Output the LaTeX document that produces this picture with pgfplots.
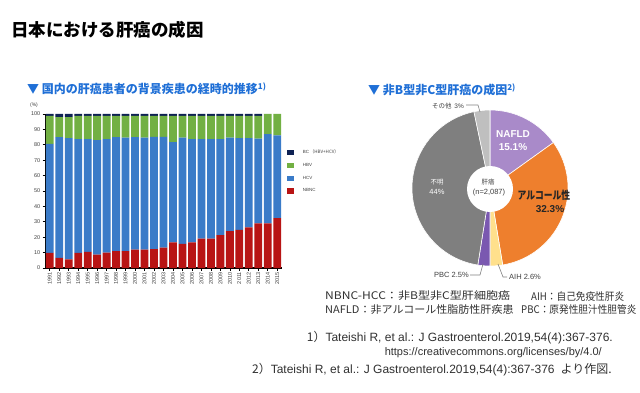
\documentclass[border=0pt]{standalone}
\usepackage{pgfplots}
\pgfplotsset{compat=1.18}
\usepackage{pgfplotstable}
\usepackage{graphicx}
\usepackage{fontspec}
\setmainfont{Liberation Sans}
\newfontfamily\jp{Noto Sans CJK JP}
\definecolor{nbnc}{HTML}{B81414}
\definecolor{hcv}{HTML}{3A7BC8}
\definecolor{hbv}{HTML}{72B043}
\definecolor{bc}{HTML}{0E2254}
\definecolor{ttl}{HTML}{1F6FD6}
\definecolor{nafld}{HTML}{A98AC9}
\definecolor{alc}{HTML}{EE7F2D}
\definecolor{aih}{HTML}{FFE08C}
\definecolor{pbc}{HTML}{7A58B0}
\definecolor{unk}{HTML}{7F7F7F}
\definecolor{oth}{HTML}{BFBFBF}
\definecolor{txt}{HTML}{404040}
\definecolor{dtxt}{HTML}{303030}

\pgfplotstableread{
year NBNC HCV HBV BC
1991 9.8 70.8 18.2 1.2
1992 6.5 78.5 13.0 2.0
1993 5.6 78.7 13.7 2.0
1994 9.8 73.9 15.1 1.2
1995 10.4 73.3 15.1 1.2
1996 8.7 74.3 15.8 1.2
1997 10.0 73.7 15.1 1.2
1998 10.9 74.1 13.8 1.2
1999 10.9 73.7 14.2 1.2
2000 12.0 73.0 13.8 1.2
2001 12.0 72.6 14.2 1.2
2002 12.2 73.0 13.6 1.2
2003 13.3 71.9 13.6 1.2
2004 16.7 65.0 17.1 1.2
2005 15.7 68.9 14.2 1.2
2006 16.7 67.0 15.1 1.2
2007 19.1 64.6 15.1 1.2
2008 19.1 64.6 15.1 1.2
2009 21.3 62.4 15.1 1.2
2010 23.9 60.7 14.2 1.2
2011 24.8 59.5 14.5 1.2
2012 26.3 58.0 14.5 1.2
2013 28.9 55.1 14.8 1.2
2014 28.9 58.1 13.0 0.0
2015 32.4 53.8 13.8 0.0
}\bardata

\begin{document}
\begin{tikzpicture}
\begin{scope}[x=1pt,y=-1pt]
\path[use as bounding box] (0,0) rectangle (640,393);
\node[anchor=west,inner sep=0] at (11,30) {\jp\bfseries\fontsize{17.5}{18}\selectfont 日本における肝癌の成因};
\node[anchor=west,inner sep=0,text=ttl] at (27,89) {\jp\bfseries\fontsize{12}{13}\selectfont ▼ 国内の肝癌患者の背景疾患の経時的推移\textsuperscript{1)}};
\node[anchor=west,inner sep=0,text=ttl] at (368,90) {\jp\bfseries\fontsize{12}{13}\selectfont ▼ 非B型非C型肝癌の成因\textsuperscript{2)}};
\node[text=txt,inner sep=0] at (34,105) {\fontsize{5}{6}\selectfont (\%)};
\end{scope}

\begin{axis}[
  at={(45pt,-268pt)}, anchor=south west,
  scale only axis, width=237pt, height=154pt,
  ybar stacked, bar width=7.8pt,
  xmin=1990.5, xmax=2015.5, ymin=0, ymax=100,
  xtick=data, ytick={0,10,...,100},
  axis x line*=bottom, axis y line*=left,
  axis line style={-, black},
  x axis line style={line width=1.3pt},
  y axis line style={line width=0.8pt},
  tick align=outside, major tick length=2.5pt,
  tick style={black, line width=0.7pt},
  /pgf/number format/assume math mode=true,
  /pgf/number format/1000 sep={},
  xticklabel style={rotate=90, anchor=east, font=\fontsize{5.5}{6}\selectfont, text=txt, inner sep=1.5pt},
  yticklabel style={font=\fontsize{5.5}{6}\selectfont, text=txt, inner sep=2pt},
  reverse legend,
  legend cell align=left,
  legend style={at={(1.02,0.78)}, anchor=north west, draw=none, fill=none,
    font=\fontsize{4.5}{5}\selectfont, text=txt, row sep=5.2pt, inner sep=0pt,
    nodes={inner sep=1.5pt}, column sep=7pt},
  legend image code/.code={\fill[#1] (0pt,-2.6pt) rectangle (7.5pt,2.6pt);},
]
\addplot[fill=nbnc, draw=none] table[x=year,y=NBNC] {\bardata};
\addplot[fill=hcv, draw=none] table[x=year,y=HCV] {\bardata};
\addplot[fill=hbv, draw=none] table[x=year,y=HBV] {\bardata};
\addplot[fill=bc, draw=none] table[x=year,y=BC] {\bardata};
\legend{NBNC,HCV,HBV,{BC\,{\jp（HBV+HCV）}}}
\end{axis}

\begin{axis}[
  at={(490pt,-188pt)}, anchor=center,
  x=1pt, y=1pt, xmin=-80, xmax=80, ymin=-80, ymax=80, hide axis,
]
% slices: NAFLD 15.1, alcohol 32.3, AIH 2.6, PBC 2.5, unknown 44, other 3
\filldraw[fill=nafld, draw=white, line width=0.6pt] (axis cs:0,0) -- ++({90-3.6*0}:78pt) arc[start angle={90-3.6*0}, end angle={90-3.6*15.1}, radius=78pt] -- cycle;
\filldraw[fill=alc, draw=white, line width=0.6pt] (axis cs:0,0) -- ++({90-3.6*15.1}:78pt) arc[start angle={90-3.6*15.1}, end angle={90-3.6*47.4}, radius=78pt] -- cycle;
\filldraw[fill=aih, draw=white, line width=0.6pt] (axis cs:0,0) -- ++({90-3.6*47.4}:78pt) arc[start angle={90-3.6*47.4}, end angle={90-3.6*50.0}, radius=78pt] -- cycle;
\filldraw[fill=pbc, draw=white, line width=0.6pt] (axis cs:0,0) -- ++({90-3.6*50.0}:78pt) arc[start angle={90-3.6*50.0}, end angle={90-3.6*52.5}, radius=78pt] -- cycle;
\filldraw[fill=unk, draw=white, line width=0.6pt] (axis cs:0,0) -- ++({90-3.6*52.5}:78pt) arc[start angle={90-3.6*52.5}, end angle={90-3.6*96.7}, radius=78pt] -- cycle;
\filldraw[fill=oth, draw=white, line width=0.6pt] (axis cs:0,0) -- ++({90-3.6*96.7}:78pt) arc[start angle={90-3.6*96.7}, end angle={90-3.6*100}, radius=78pt] -- cycle;
\fill[white] (axis cs:0,-1) circle[radius=23pt];
\end{axis}

\begin{scope}[x=1pt,y=-1pt]
\node[text=white,inner sep=0] at (513,134) {\bfseries\fontsize{10}{11}\selectfont NAFLD};
\node[text=white,inner sep=0] at (513,147) {\bfseries\fontsize{10}{11}\selectfont 15.1\%};
\node[text=black!85,inner sep=0] at (544,195) {\scalebox{0.8}[1]{\jp\bfseries\fontsize{11}{12}\selectfont アルコール性}};
\node[text=black!85,inner sep=0] at (550,209) {\bfseries\fontsize{10}{11}\selectfont 32.3\%};
\node[text=white,inner sep=0] at (437,182) {\jp\fontsize{6.5}{7}\selectfont 不明};
\node[text=white,inner sep=0] at (437,192) {\fontsize{7.5}{8}\selectfont 44\%};
\node[text=txt,inner sep=0] at (488,182) {\jp\fontsize{6.5}{7}\selectfont 肝癌};
\node[text=txt,inner sep=0] at (489,193) {\fontsize{7.5}{8}\selectfont (n=2,087)};
\node[text=txt,inner sep=0,anchor=east] at (464,106) {{\jp\fontsize{6.5}{7}\selectfont その他} \fontsize{6.5}{7}\selectfont 3\%};
\node[text=txt,inner sep=0,anchor=east] at (469,275) {\fontsize{7.5}{8}\selectfont PBC 2.5\%};
\node[text=txt,inner sep=0,anchor=west] at (509,277) {\fontsize{7.5}{8}\selectfont AIH 2.6\%};
\draw[unk, line width=0.6pt] (466,105) -- (478,105) -- (480,112);
\draw[unk, line width=0.6pt] (470,275) -- (480,275) -- (483,264);
\draw[unk, line width=0.6pt] (498,264) -- (503,277) -- (507,277);

\node[text=dtxt,inner sep=0,anchor=west] at (325,296) {\scalebox{1.15}[1]{\jp\fontsize{10.5}{11}\selectfont NBNC-HCC：非B型非C型肝細胞癌}};
\node[text=dtxt,inner sep=0,anchor=west] at (531,296) {\scalebox{0.92}[1]{\jp\fontsize{10.5}{11}\selectfont AIH：自己免疫性肝炎}};
\node[text=dtxt,inner sep=0,anchor=west] at (325,310) {\scalebox{1.05}[1]{\jp\fontsize{10.5}{11}\selectfont NAFLD：非アルコール性脂肪性肝疾患}};
\node[text=dtxt,inner sep=0,anchor=west] at (521,310) {\scalebox{0.92}[1]{\jp\fontsize{10.5}{11}\selectfont PBC：原発性胆汁性胆管炎}};

\node[text=dtxt,inner sep=0,anchor=east] at (613,338) {\fontsize{12}{13}\selectfont {\jp 1）}Tateishi R, et al.: J Gastroenterol.2019,54(4):367-376.};
\node[text=dtxt,inner sep=0,anchor=east] at (602,353) {\fontsize{11}{12}\selectfont https://creativecommons.org/licenses/by/4.0/};
\node[text=dtxt,inner sep=0,anchor=east] at (612,370) {\fontsize{12}{13}\selectfont {\jp 2）}Tateishi R, et al.: J Gastroenterol.2019,54(4):367-376\enspace{\jp より作図.}};
\end{scope}
\end{tikzpicture}
\end{document}
